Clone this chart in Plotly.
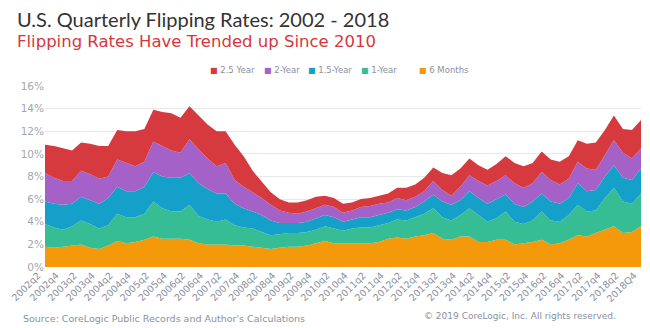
import plotly.graph_objects as go

quarters = [
    "2002q2", "2002q3", "2002q4", "2003q1", "2003q2", "2003q3", "2003q4", "2004q1",
    "2004q2", "2004q3", "2004q4", "2005q1", "2005q2", "2005q3", "2005q4", "2006q1",
    "2006q2", "2006q3", "2006q4", "2007q1", "2007q2", "2007q3", "2007q4", "2008q1",
    "2008q2", "2008q3", "2008q4", "2009q1", "2009q2", "2009q3", "2009q4", "2010q1",
    "2010q2", "2010q3", "2010q4", "2011q1", "2011q2", "2011q3", "2011q4", "2012q1",
    "2012q2", "2012q3", "2012q4", "2013q1", "2013q2", "2013q3", "2013q4", "2014q1",
    "2014q2", "2014q3", "2014q4", "2015q1", "2015q2", "2015q3", "2015q4", "2016q1",
    "2016q2", "2016q3", "2016q4", "2017q1", "2017q2", "2017q3", "2017q4", "2018q1",
    "2018q2", "2018q3", "2018Q4",
]
tick_labels = [
    "2002q2", "2002q4", "2003q2", "2003q4", "2004q2", "2004q4", "2005q2", "2005q4",
    "2006q2", "2006q4", "2007q2", "2007q4", "2008q2", "2008q4", "2009q2", "2009q4",
    "2010q2", "2010q4", "2011q2", "2011q4", "2012q2", "2012q4", "2013q2", "2013q4",
    "2014q2", "2014q4", "2015q2", "2015q4", "2016q2", "2016q4", "2017q2", "2017q4",
    "2018q2", "2018Q4",
]

six_months = [1.8, 1.7, 1.8, 1.9, 2.0, 1.7, 1.6, 1.9, 2.3, 2.1, 2.2, 2.4, 2.7, 2.5, 2.5, 2.5,
              2.4, 2.1, 2.0, 2.0, 2.0, 1.9, 1.9, 1.8, 1.7, 1.6, 1.7, 1.8, 1.8, 1.9, 2.1, 2.3,
              2.1, 2.1, 2.1, 2.1, 2.1, 2.2, 2.5, 2.6, 2.5, 2.7, 2.8, 3.0, 2.5, 2.4, 2.7, 2.7,
              2.2, 2.2, 2.4, 2.4, 2.0, 2.1, 2.2, 2.4, 2.0, 2.1, 2.4, 2.8, 2.7, 3.0, 3.3, 3.6,
              3.0, 3.1, 3.6]
one_year = [2.0, 1.8, 1.5, 1.7, 2.1, 2.1, 1.8, 1.8, 2.4, 2.3, 2.2, 2.3, 3.1, 2.7, 2.4, 2.4,
            3.1, 2.4, 2.2, 2.0, 2.2, 1.8, 1.6, 1.6, 1.4, 1.2, 1.2, 1.2, 1.2, 1.2, 1.2, 1.3,
            1.3, 1.1, 1.3, 1.4, 1.4, 1.5, 1.4, 1.6, 1.6, 1.7, 1.9, 2.2, 1.9, 1.7, 1.9, 2.5,
            2.4, 1.8, 1.9, 2.5, 2.0, 1.7, 1.9, 2.5, 2.1, 1.9, 2.2, 2.7, 2.2, 2.0, 2.8, 3.4,
            2.8, 2.5, 2.9]
one_half_year = [2.0, 2.1, 2.2, 2.0, 2.1, 2.1, 2.2, 2.4, 2.4, 2.3, 2.3, 2.4, 2.6, 2.8, 3.0, 3.0,
                 2.8, 2.9, 2.7, 2.5, 2.3, 1.9, 1.7, 1.5, 1.5, 1.3, 1.0, 0.9, 0.9, 0.9, 1.0, 1.0,
                 1.0, 0.8, 0.8, 0.9, 0.9, 0.9, 0.9, 0.9, 0.9, 0.9, 1.1, 1.2, 1.4, 1.4, 1.3, 1.5,
                 1.5, 1.6, 1.7, 1.5, 1.6, 1.5, 1.7, 1.6, 1.7, 1.6, 1.5, 1.9, 1.8, 1.8, 1.9, 2.0,
                 2.1, 2.1, 2.2]
two_year = [2.5, 2.3, 2.1, 2.0, 2.3, 2.3, 2.2, 1.9, 2.4, 2.5, 2.2, 2.2, 2.7, 2.7, 2.4, 2.2,
            3.0, 3.0, 2.7, 2.4, 2.7, 2.1, 1.9, 1.7, 1.5, 1.4, 1.1, 0.9, 0.8, 0.9, 0.9, 0.9,
            0.9, 0.8, 0.8, 0.9, 1.0, 1.0, 0.9, 1.0, 0.9, 0.9, 0.9, 1.2, 1.0, 0.8, 1.2, 1.4,
            1.5, 1.6, 1.6, 1.7, 1.8, 1.7, 1.6, 1.9, 1.9, 1.7, 1.7, 1.9, 2.0, 1.8, 1.9, 2.2,
            2.2, 1.9, 1.8]
two_half_year = [2.5, 2.8, 2.9, 2.7, 2.5, 2.7, 2.9, 2.7, 2.6, 2.8, 3.1, 2.9, 2.8, 3.0, 3.3, 3.1,
                 2.9, 3.0, 3.0, 3.1, 2.8, 3.1, 2.7, 1.9, 1.4, 1.1, 1.0, 0.9, 1.0, 1.0, 1.0, 0.8,
                 0.8, 0.8, 0.7, 0.7, 0.7, 0.7, 0.8, 0.9, 1.1, 1.1, 1.2, 1.2, 1.5, 1.8, 1.6, 1.5,
                 1.4, 1.4, 1.5, 1.7, 1.8, 1.9, 1.8, 1.8, 1.8, 2.0, 2.0, 1.9, 2.2, 2.4, 2.2, 2.2,
                 2.1, 2.5, 2.5]

series_names = ["6 Months", "1-Year", "1.5-Year", "2-Year", "2.5 Year"]
series_values = [six_months, one_year, one_half_year, two_year, two_half_year]
series_colors = ["#F49A0A", "#37BD94", "#14A0C9", "#A462C8", "#D63A3F"]

FONT = "DejaVu Sans"
GREY = "#8A909E"

fig = go.Figure()
for name, vals, col in zip(series_names, series_values, series_colors):
    fig.add_trace(go.Scatter(
        x=quarters, y=vals, name=name, mode="lines",
        line=dict(width=0, color=col), fillcolor=col,
        stackgroup="one", showlegend=False,
    ))

L, R, T, B = 43, 641, 86, 267


def px_x(px):
    return (px - L) / (R - L)


def px_y(py):
    return (B - py) / (B - T)


def note(text, px, py, anchor, font):
    return dict(text=text, x=px_x(px), y=px_y(py), xref="paper", yref="paper",
                xanchor=anchor, yanchor="middle", showarrow=False, font=font)


annotations = [
    note("U.S. Quarterly Flipping Rates: 2002 - 2018", 13, 19, "left",
         dict(family="Lato", size=20, color="#333333")),
    note("Flipping Rates Have Trended up Since 2010", 13, 41, "left",
         dict(family=FONT, size=16.5, color="#D8353D")),
    note("Source: CoreLogic Public Records and Author's Calculations", 19, 318, "left",
         dict(family=FONT, size=9.5, color=GREY)),
    note("\u00a9 2019 CoreLogic, Inc. All rights reserved.", 618, 316, "right",
         dict(family=FONT, size=9, color=GREY)),
]

legend_x = [207, 261, 305, 358, 416]
for name, col, lx in zip(series_names[::-1], series_colors[::-1], legend_x):
    annotations.append(note(
        f"<span style='color:{col};font-size:8px'>\u25a0</span> {name}", lx, 70, "left",
        dict(family=FONT, size=8.5, color=GREY)))

fig.update_layout(
    width=650, height=328,
    margin=dict(l=L, r=650 - R, t=T, b=328 - B),
    paper_bgcolor="white", plot_bgcolor="white",
    showlegend=False,
    annotations=annotations,
    xaxis=dict(
        type="category", range=[0, len(quarters) - 1],
        tickvals=tick_labels, ticktext=tick_labels, tickangle=-45,
        tickfont=dict(family=FONT, size=9.5, color=GREY),
        showgrid=False, zeroline=False, showline=False, ticks="",
        ticklabelshift=-7,
    ),
    yaxis=dict(
        range=[0, 16], dtick=2, ticksuffix="%",
        tickfont=dict(family=FONT, size=10.5, color="#A3A7B0"),
        gridcolor="#E8E8E8", gridwidth=1, zeroline=False, showline=False,
        ticks="",
    ),
)

fig.write_html("out.html")
